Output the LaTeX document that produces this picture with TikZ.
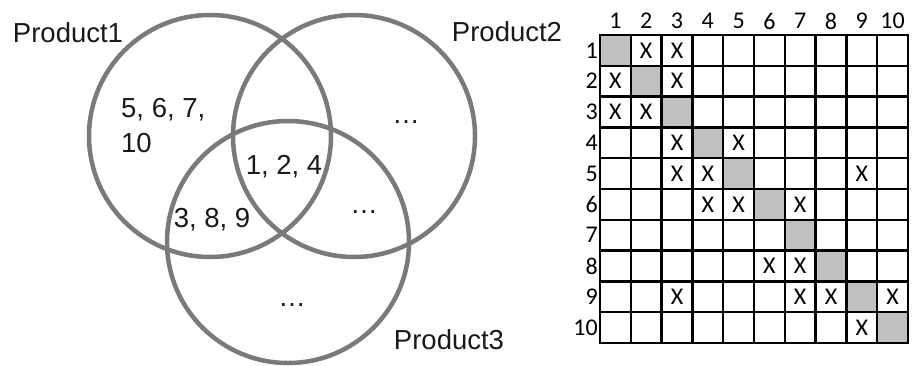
\documentclass[tikz,border=0pt]{standalone}
\usepackage{fontspec}
\setmainfont{Liberation Sans}
\newfontfamily\calib{Carlito}
\definecolor{vgray}{HTML}{7A7A7A}
\definecolor{cgray}{HTML}{C0C0C0}
\begin{document}
\begin{tikzpicture}[x=1pt,y=-1pt,
  venn/.style={draw=vgray,line width=4.5pt,circle,minimum size=242pt,inner sep=0pt},
  vlabel/.style={font=\fontsize{27.5}{35}\selectfont,inner sep=0pt,text=black!90},
  mlabel/.style={font=\calib\fontsize{24}{28}\selectfont,inner sep=0pt},
  diagcell/.style={fill=cgray},
  gridline/.style={line width=2.4pt,black,line cap=rect}]
\useasboundingbox (0,0) rectangle (912,365);
% Venn diagram
\node[venn] (p1) at (210,136) {};
\node[venn] (p2) at (354,136) {};
\node[venn] (p3) at (288,242) {};
\node[vlabel] (t1) at (68,33) {Product1};
\node[vlabel] (t2) at (507,32) {Product2};
\node[vlabel] (t3) at (449,340) {Product3};
\node[vlabel,anchor=west,align=left] (s1) at (121,125.5) {5, 6, 7,\\10};
\node[vlabel] (s124) at (284,167) {1, 2, 4};
\node[vlabel] (s13) at (212,220) {3, 8, 9};
\node[vlabel] (d2) at (406,122) {…};
\node[vlabel] (d23) at (364,212) {…};
\node[vlabel] (d3) at (292,305) {…};
% Matrix
\foreach \i in {1,...,10}
  \fill[diagcell] ({600+(\i-1)*30.8},{35+(\i-1)*30.8}) rectangle ++(30.8,30.8);
\foreach \k in {0,...,10} {
  \draw[gridline] ({600+\k*30.8},35) -- ++(0,308);
  \draw[gridline] (600,{35+\k*30.8}) -- ++(308,0);
}
\foreach \i in {1,...,10} {
  \node[mlabel] (h\i) at ({600+(\i-0.5)*30.8},21) {\i};
  \node[mlabel,anchor=east] (r\i) at (598,{35+(\i-0.5)*30.8}) {\i};
}
\foreach \r/\c in {1/2,1/3,2/1,2/3,3/1,3/2,4/3,4/5,5/3,5/4,5/9,6/4,6/5,6/7,8/6,8/7,9/3,9/7,9/8,9/10,10/9}
  \node[mlabel] (x\r-\c) at ({600+(\c-0.5)*30.8},{35+(\r-0.5)*30.8}) {X};
\end{tikzpicture}
\end{document}
